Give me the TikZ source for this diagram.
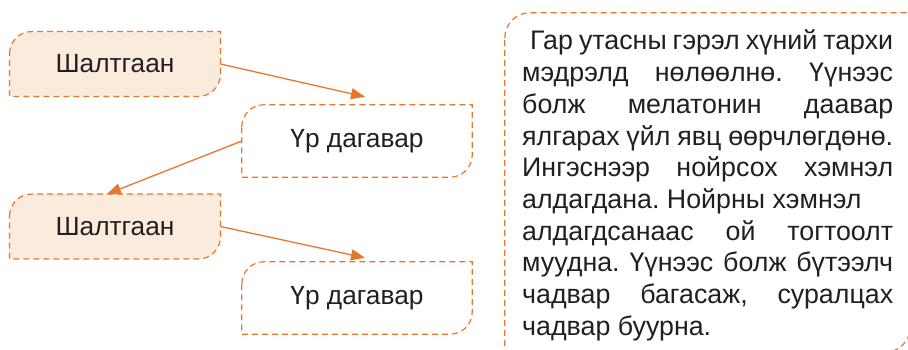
\documentclass[tikz,border=0pt]{standalone}
\usepackage{fontspec}
\setmainfont{Liberation Sans}
\usetikzlibrary{arrows.meta,calc,backgrounds}
\definecolor{orng}{HTML}{E8772E}
\definecolor{peach}{HTML}{FBEBDD}
\definecolor{ink}{HTML}{231F20}
\frenchspacing
\newcommand\tlbrframe[3]{%
 \path[frameline, fill=#3]
 ($(#1.north west)+(0,#2)$) .. controls ($(#1.north west)+(0,0.448*#2)$) and ($(#1.north west)+(0.448*#2,0)$) .. ($(#1.north west)+(#2,0)$)
 -- (#1.north east)
 -- ($(#1.south east)+(0,-#2)$) .. controls ($(#1.south east)+(0,-0.448*#2)$) and ($(#1.south east)+(-0.448*#2,0)$) .. ($(#1.south east)+(-#2,0)$)
 -- (#1.south west) -- cycle;}
\tikzset{
 frameline/.style={draw=orng, line width=1.2pt, dash pattern=on 6pt off 4pt},
 cause/.style={inner sep=0pt, minimum width=210.5pt, minimum height=64.5pt, font=\fontsize{26.3}{30}\selectfont, text=ink},
 effect/.style={inner sep=0pt, minimum width=230pt, minimum height=72pt, font=\fontsize{26.3}{30}\selectfont, text=ink},
 arr/.style={draw=orng, line width=1.3pt, -{Triangle[length=14pt,width=11pt]}},
}
\begin{document}
\begin{tikzpicture}[x=1pt,y=-1pt]
\useasboundingbox (0,0) rectangle (908,350);
\node[cause]  (s1) at (115,64) {Шалтгаан};
\node[effect] (u1) at (357,141) {Үр дагавар};
\node[cause]  (s2) at (115,226.5) {Шалтгаан};
\node[effect] (u2) at (357,298) {Үр дагавар};
\node[inner sep=0pt, minimum width=405pt, minimum height=339pt] (tb) at (707.5,182.5) {};
\node[anchor=base west, inner sep=0pt, font=\fontsize{26.8}{31.7}\selectfont, text=ink] (txt) at (522,50) {\vtop{\hsize=371pt \baselineskip=31.7pt \lineskiplimit=-100pt
\hbox to\hsize{\hskip8pt Гар утасны гэрэл хүний тархи}
\hbox to\hsize{мэдрэлд нөлөөлнө. Үүнээс}
\hbox to\hsize{болж мелатонин даавар}
\hbox to\hsize{ялгарах үйл явц өөрчлөгдөнө.}
\hbox to\hsize{Ингэснээр нойрсох хэмнэл}
\hbox to\hsize{алдагдана. Нойрны хэмнэл\hfil}
\hbox to\hsize{алдагдсанаас ой тогтоолт}
\hbox to\hsize{муудна. Үүнээс болж бүтээлч}
\hbox to\hsize{чадвар багасаж, суралцах}
\hbox to\hsize{чадвар буурна.\hfil}}};
\begin{scope}[on background layer]
\tlbrframe{s1}{22}{peach}
\tlbrframe{u1}{22}{white}
\tlbrframe{s2}{22}{peach}
\tlbrframe{u2}{22}{white}
\tlbrframe{tb}{25}{none}
\end{scope}
\draw[arr] (s1.east) -- ($(u1.north)+(8,-8)$);
\draw[arr] (u1.west) -- ($(s2.north)+(-8,0)$);
\draw[arr] (s2.east) -- ($(u2.north)+(8,-4)$);
\end{tikzpicture}
\end{document}
